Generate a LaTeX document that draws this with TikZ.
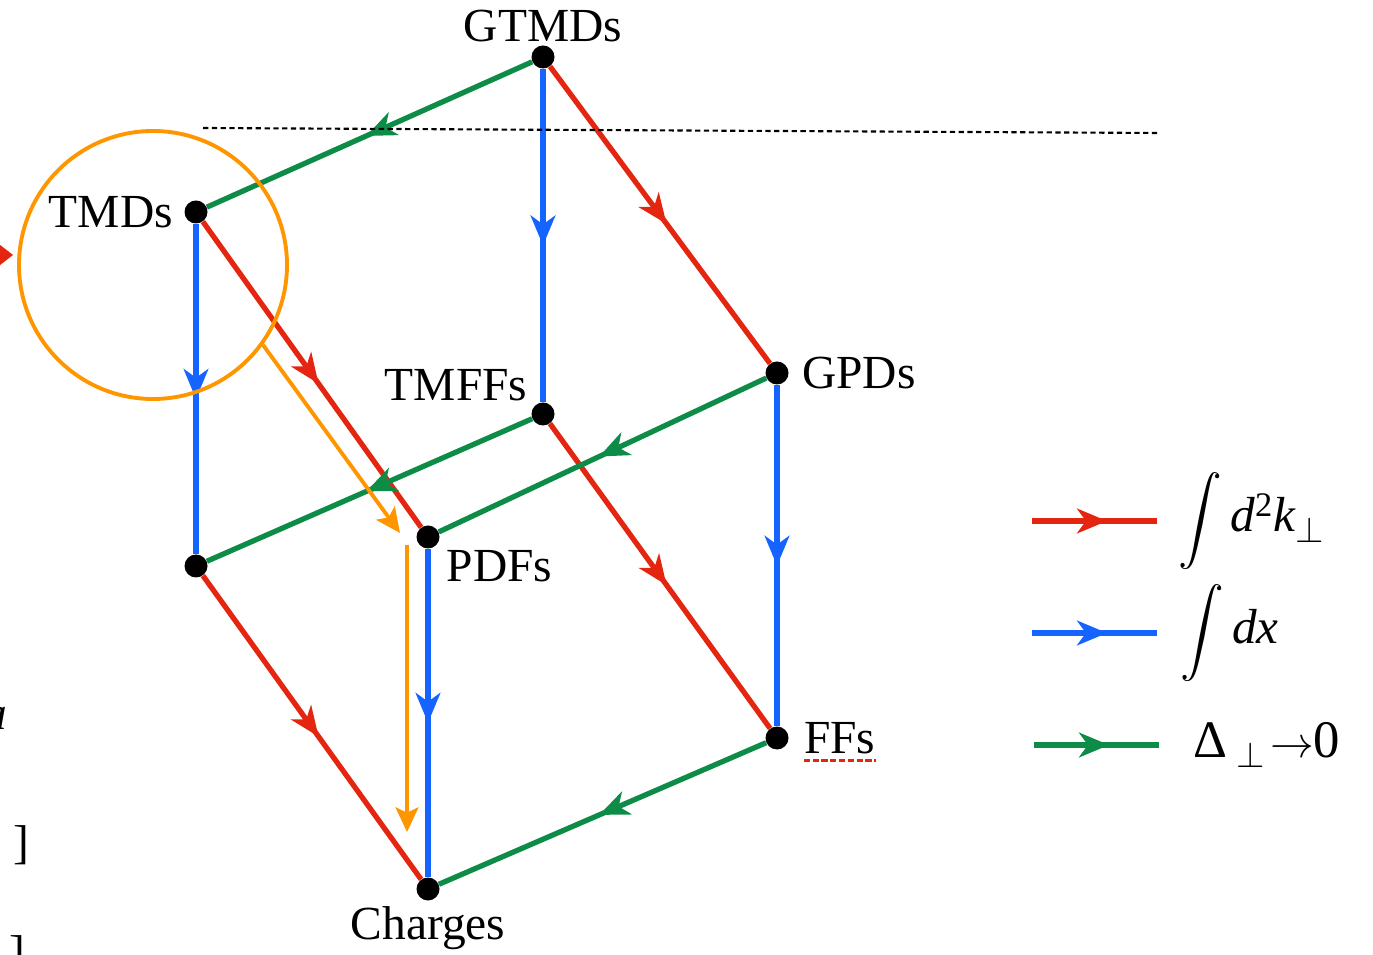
\documentclass[tikz,border=0pt]{standalone}
\usepackage{fontspec}
\setmainfont{Liberation Serif}
\usepackage{amsmath}
\usetikzlibrary{arrows.meta, positioning, decorations.markings, backgrounds}

\definecolor{intk}{RGB}{228,38,16}
\definecolor{intx}{RGB}{22,100,255}
\definecolor{dlim}{RGB}{12,140,70}
\definecolor{hilite}{RGB}{255,150,0}

\begin{document}
\begin{tikzpicture}[
  dot/.style={circle, fill=black, inner sep=0pt, minimum size=0.46cm},
  txt/.style={inner sep=0pt, font=\fontsize{27}{30}\selectfont},
  leg/.style={inner sep=0pt, font=\fontsize{28}{32}\selectfont},
  flow/.style={line width=3pt, postaction={decorate},
    decoration={markings, mark=at position #1 with
      {\arrow{Stealth[length=17pt,width=14pt,inset=5pt]}}}},
  kint/.style={flow=#1, color=intk}, kint/.default=0.53,
  xint/.style={flow=#1, color=intx}, xint/.default=0.53,
  dlimit/.style={flow=#1, color=dlim}, dlimit/.default=0.51,
  hl/.style={hilite, line width=2.2pt, -{Stealth[length=14pt,width=13pt,inset=3pt]}}
]
\useasboundingbox (0,0) rectangle (27.46,19.08);

% corners of the cube
\node[dot] (gtmd)   at (10.86,17.94) {};
\node[dot] (tmd)    at (3.92,14.84) {};
\node[dot] (tmff)   at (10.86,10.80) {};
\node[dot] (gpd)    at (15.54,11.62) {};
\node[dot] (pdf)    at (8.56,8.34) {};
\node[dot] (tmdx)   at (3.92,7.76) {};
\node[dot] (ff)     at (15.54,4.32) {};
\node[dot] (charge) at (8.56,1.30) {};

\node[txt, above=0.06cm of gtmd] (gtmdlbl) {GTMDs};
\node[txt, left=0.22cm of tmd] (tmdlbl) {TMDs};
\node[txt, above left=0.08cm and 0.14cm of tmff] (tmfflbl) {TMFFs};
\node[txt, right=0.26cm of gpd] (gpdlbl) {GPDs};
\node[txt, below right=0.1cm and 0.2cm of pdf] (pdflbl) {PDFs};
\node[txt, right=0.3cm of ff] (fflbl) {FFs};
\node[txt, below=0.1cm of charge] (chargelbl) {Charges};
\draw[intk, line width=2pt, dash pattern=on 3.5pt off 1.5pt]
  ([yshift=-3.5pt]fflbl.south west) -- ([yshift=-3.5pt]fflbl.south east);

\begin{scope}[on background layer]
\draw[dlimit] (gtmd) -- (tmd);
\draw[xint] (gtmd) -- (tmff);
\draw[kint] (gtmd) -- (gpd);
\draw[xint] (tmd) -- (tmdx);
\draw[kint] (tmd) -- (pdf);
\draw[dlimit] (tmff) -- (tmdx);
\draw[kint] (tmff) -- (ff);
\draw[dlimit] (gpd) -- (pdf);
\draw[xint] (gpd) -- (ff);
\draw[xint] (pdf) -- (charge);
\draw[kint] (tmdx) -- (charge);
\draw[dlimit] (ff) -- (charge);
\end{scope}

% cut line
\coordinate (cutl) at (4.06,16.52);
\coordinate (cutr) at (23.16,16.42);
\draw[line width=1.2pt, dash pattern=on 3pt off 2pt] (cutl) -- (cutr);

% highlight
\node[circle, draw=hilite, line width=2.2pt, minimum size=5.36cm, inner sep=0pt] (focus) at (3.06,13.78) {};
\coordinate (hlend) at (8.00,8.42);
\coordinate (hltop) at (8.14,8.18);
\coordinate (hlbot) at (8.14,2.44);
\draw[hl] (focus.-36) -- (hlend);
\draw[hl] (hltop) -- (hlbot);

% legend
\coordinate (kl) at (20.64,8.66);  \coordinate (kr) at (23.14,8.66);
\coordinate (xl) at (20.64,6.42);  \coordinate (xr) at (23.14,6.42);
\coordinate (dl) at (20.68,4.18);  \coordinate (dr) at (23.18,4.18);
\draw[kint=0.6] (kl) -- (kr);
\draw[xint=0.6] (xl) -- (xr);
\draw[dlimit=0.6] (dl) -- (dr);
\node[leg, right=0.42cm of kr] (klbl) {$\displaystyle\int$\,\textit{d}\textsuperscript{2}\textit{k}$_\perp$};
\node[leg, right=0.46cm of xr] (xlbl) {$\displaystyle\int$\,\textit{dx}};
\node[txt, right=0.68cm of dr, font=\fontsize{30}{34}\selectfont] (dlbl) {Δ\,$_\perp\!\rightarrow$0};

% slide leftovers at the left edge
\fill[intk] (-0.1,14.26) -- (0.26,13.98) -- (-0.1,13.7) -- cycle;
\node[txt, anchor=base east] (lefta) at (0.16,4.48) {\textit{a}};
\node[txt, anchor=center] (brk1) at (0.42,2.18) {]};
\node[txt, anchor=north] (brk2) at (0.34,0.38) {]};
\end{tikzpicture}
\end{document}
